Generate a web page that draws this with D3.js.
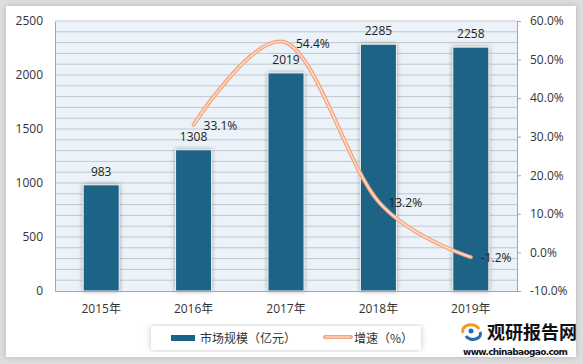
<!DOCTYPE html>
<html>
<head>
<meta charset="utf-8">
<script src="https://cdn.jsdelivr.net/npm/d3@7"></script>
<style>
  body { margin: 0; background: #fff; }
  text { font-family: "Open Sans", "Noto Sans CJK SC", sans-serif; }
</style>
</head>
<body>
<svg id="chart" width="583" height="364"></svg>
<script>
var years = ['2015年', '2016年', '2017年', '2018年', '2019年'];
var mercado = [983, 1308, 2019, 2285, 2258];
var crecimiento = [null, 33.1, 54.4, 13.2, -1.2];
var ticksIzq = [0, 500, 1000, 1500, 2000, 2500];
var ticksDer = [-10, 0, 10, 20, 30, 40, 50, 60];

var svg = d3.select('#chart');
var izq = 55, der = 517, arriba = 21, abajo = 291;

var defs = svg.append('defs');
var f1 = defs.append('filter').attr('id', 'sombra').attr('x', '-30%').attr('y', '-10%').attr('width', '160%').attr('height', '120%');
f1.append('feDropShadow').attr('dx', 0).attr('dy', 0).attr('stdDeviation', 2.2).attr('flood-color', '#666').attr('flood-opacity', 0.6);
var f2 = defs.append('filter').attr('id', 'marco').attr('x', '-5%').attr('y', '-5%').attr('width', '110%').attr('height', '110%');
f2.append('feDropShadow').attr('dx', 0).attr('dy', 0).attr('stdDeviation', 3).attr('flood-color', '#999').attr('flood-opacity', 0.6);

// fondo y marco
svg.append('rect').attr('width', 583).attr('height', 364).attr('fill', '#dedede');
svg.append('rect').attr('x', 6).attr('y', 6).attr('width', 570).attr('height', 351)
  .attr('fill', '#fff').attr('filter', 'url(#marco)');

var xScale = d3.scaleBand().domain(years).range([izq, der]).paddingInner(0.61).paddingOuter(0.305);
var yScale = d3.scaleLinear().domain([0, 2500]).range([abajo, arriba]);
var pScale = d3.scaleLinear().domain([-10, 60]).range([abajo, arriba]);

// area del grafico
svg.append('rect').attr('x', izq).attr('y', arriba).attr('width', der - izq).attr('height', abajo - arriba)
  .attr('fill', '#ebf2f9');

for (var v = 100; v <= 2500; v += 100) {
  svg.append('line')
    .attr('x1', izq).attr('x2', der)
    .attr('y1', yScale(v)).attr('y2', yScale(v))
    .attr('stroke', '#c4c7cb').attr('stroke-width', 1);
}

// barras
svg.selectAll('.barra')
  .data(mercado)
  .join('rect')
  .attr('class', 'barra')
  .attr('x', (d, i) => xScale(years[i]))
  .attr('y', d => yScale(d))
  .attr('width', xScale.bandwidth())
  .attr('height', d => abajo - yScale(d))
  .attr('fill', '#1b6386')
  .attr('stroke', '#eef3f7')
  .attr('stroke-width', 1)
  .attr('filter', 'url(#sombra)');

// ejes
svg.append('g')
  .attr('transform', 'translate(' + izq + ',0)')
  .call(d3.axisLeft(yScale).tickValues(ticksIzq).tickSize(0).tickPadding(12).tickFormat(d3.format('d')))
  .call(g => g.select('.domain').attr('stroke', '#a6a6a6'))
  .call(g => g.selectAll('text').attr('font-size', 12).attr('fill', '#333'));

svg.append('g')
  .attr('transform', 'translate(' + der + ',0)')
  .call(d3.axisRight(pScale).tickValues(ticksDer).tickSize(4).tickPadding(9).tickFormat(d => d.toFixed(1) + '%'))
  .call(g => g.select('.domain').attr('stroke', '#a6a6a6'))
  .call(g => g.selectAll('line').attr('stroke', '#a6a6a6'))
  .call(g => g.selectAll('text').attr('font-size', 12).attr('fill', '#333'));

svg.append('g')
  .attr('transform', 'translate(0,' + abajo + ')')
  .call(d3.axisBottom(xScale).tickSize(0).tickPadding(13))
  .call(g => g.select('.domain').attr('stroke', '#a6a6a6'))
  .call(g => g.selectAll('text').attr('font-size', 12).attr('fill', '#333'));

// etiquetas de barras
svg.selectAll('.valor')
  .data(mercado)
  .join('text')
  .attr('class', 'valor')
  .attr('x', (d, i) => xScale(years[i]) + xScale.bandwidth() / 2)
  .attr('y', d => yScale(d) - 9)
  .attr('text-anchor', 'middle')
  .attr('font-size', 12)
  .attr('fill', '#222')
  .text(d => d);

// linea de crecimiento
var puntos = crecimiento.map((d, i) => ({ x: xScale(years[i]) + xScale.bandwidth() / 2, v: d }))
  .filter(d => d.v !== null);
var linea = d3.line().curve(d3.curveCardinal.tension(0)).x(d => d.x).y(d => pScale(d.v));
svg.append('path').datum(puntos).attr('d', linea)
  .attr('fill', 'none').attr('stroke', '#f3a47c').attr('stroke-width', 4).attr('stroke-linecap', 'round');
svg.append('path').datum(puntos).attr('d', linea)
  .attr('fill', 'none').attr('stroke', '#fde0cf').attr('stroke-width', 1.4).attr('stroke-linecap', 'round');

svg.selectAll('.pct')
  .data(puntos)
  .join('text')
  .attr('class', 'pct')
  .attr('x', d => d.x + 10)
  .attr('y', d => pScale(d.v) + 5)
  .attr('font-size', 12)
  .attr('fill', '#222')
  .text(d => d.v.toFixed(1) + '%');

// leyenda
svg.append('rect').attr('x', 151).attr('y', 326).attr('width', 270).attr('height', 24)
  .attr('fill', '#fff').attr('filter', 'url(#marco)');
svg.append('rect').attr('x', 171).attr('y', 335).attr('width', 24).attr('height', 6).attr('fill', '#1b6386');
svg.append('text').attr('x', 200).attr('y', 343).attr('font-size', 12).attr('fill', '#333')
  .style('font-family', '"Noto Sans CJK SC"').text('市场规模（亿元）');
svg.append('line').attr('x1', 325).attr('x2', 351).attr('y1', 337).attr('y2', 337)
  .attr('stroke', '#f3a47c').attr('stroke-width', 4).attr('stroke-linecap', 'round');
svg.append('line').attr('x1', 325).attr('x2', 351).attr('y1', 337).attr('y2', 337)
  .attr('stroke', '#fde0cf').attr('stroke-width', 1.2);
svg.append('text').attr('x', 354).attr('y', 343).attr('font-size', 12).attr('fill', '#333')
  .style('font-family', '"Noto Sans CJK SC"').text('增速（%）');

// logo
var logo = svg.append('g').attr('transform', 'translate(471,331)');
logo.append('path').attr('d', 'M-8,2 A8,6 0 1,1 8,-2').attr('fill', 'none').attr('stroke', '#f39a1e').attr('stroke-width', 3);
logo.append('path').attr('d', 'M-5,5 A7,5 0 0,0 9,1').attr('fill', 'none').attr('stroke', '#1f6fb5').attr('stroke-width', 3);
logo.append('circle').attr('r', 2.5).attr('fill', '#1f6fb5');
svg.append('text').attr('x', 487).attr('y', 339).attr('font-size', 18).attr('font-weight', 'bold')
  .attr('fill', '#111').style('font-family', '"Noto Sans CJK SC"').text('观研报告网');
svg.append('text').attr('x', 463).attr('y', 355).attr('font-size', 9).attr('font-weight', 'bold')
  .attr('fill', '#111').style('font-family', '"DejaVu Sans"').attr('textLength', 105).text('www.chinabaogao.com');
</script>
</body>
</html>
